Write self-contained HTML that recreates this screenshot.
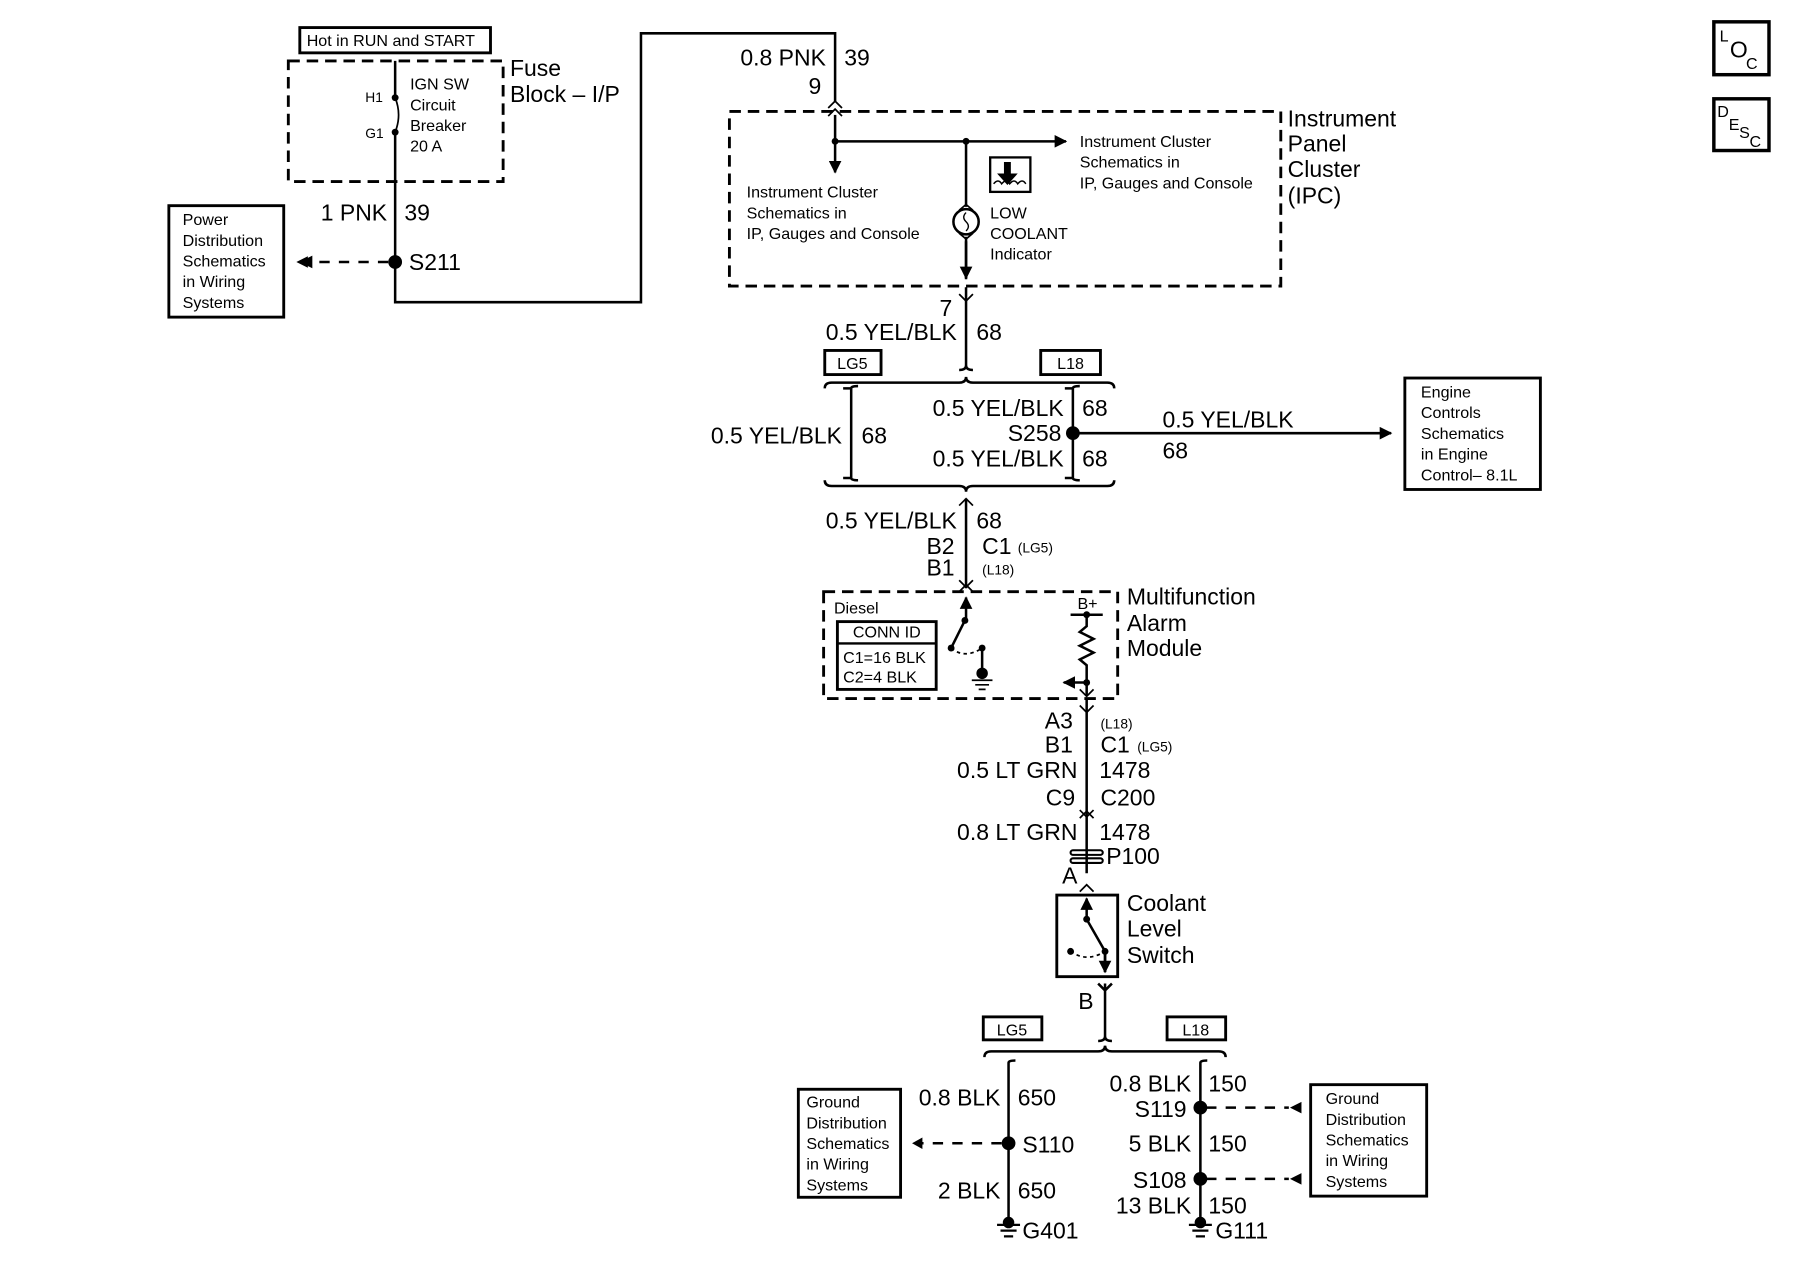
<!DOCTYPE html>
<html><head><meta charset="utf-8"><style>
html,body{margin:0;padding:0;background:#fff;}
svg{display:block}
text{font-family:"Liberation Sans",Arial,sans-serif;fill:#000}
.b{font-size:20px}
.s{font-size:14px}
.xs{font-size:12px}
.r{text-anchor:end}
</style></head><body>
<svg width="1800" height="1280" viewBox="0 0 1567 1114" preserveAspectRatio="none" xmlns="http://www.w3.org/2000/svg">
<defs>
<marker id="ah" viewBox="0 0 10 10" refX="9" refY="5" markerWidth="5" markerHeight="5" orient="auto-start-reverse"><path d="M0,0L10,5L0,10z" fill="#000"/></marker>
</defs>
<g fill="none" stroke="#000" stroke-width="2.2">
<rect x="261" y="24" width="166" height="22" stroke-width="2.5"/>
<rect x="251" y="53" width="187" height="105" stroke-dasharray="10,6" stroke-width="2.5"/>
<path d="M344,53V85M344,115V263H558V29H727V88"/>
<path d="M344,85q6,15 0,30" stroke-width="1.5"/>
<rect x="147" y="179" width="100" height="97" stroke-width="2.5"/>
<path d="M338,228H262" stroke-dasharray="9,8" marker-end="url(#ah)"/>
<path d="M721,94l6,-6l6,6M721,101l6,-6l6,6" stroke-width="1.5"/>
<rect x="635" y="97" width="480" height="152" stroke-dasharray="10,6" stroke-width="2.5"/>
<path d="M727,100V150" marker-end="url(#ah)"/>
<path d="M727,123H928" marker-end="url(#ah)"/>
<path d="M841,123V180M841,206V243" />
<path d="M841,210V242" marker-end="url(#ah)"/>
<path d="M835,183l6,-5l6,5M835,203l6,5l6,-5" stroke-width="1.5"/>
<circle cx="841" cy="193" r="11"/>
<path d="M841,185q-4,4 0,8q4,4 0,8" stroke-width="1.2"/>
<rect x="862" y="137" width="35" height="30" stroke-width="2"/>
<path d="M865,160q4,-5 7,0q4,-5 7,0q4,-5 7,0q4,-5 7,0" stroke-width="1.3"/>
<path d="M835,256l6,6l6,-6" stroke-width="1.5"/>
<path d="M841,250V318q0,4 6,4M841,318q0,4 -6,4"/>
<rect x="718" y="305" width="49" height="21" stroke-width="2.5"/>
<rect x="906" y="305" width="52" height="21" stroke-width="2.5"/>
<path d="M718,338q0,-5 6,-5H835q6,0 6,-5q0,5 6,5H964q6,0 6,5"/>
<path d="M741,338V416M734,338q7,0 7,0M741,338q0,-2 6,-2M741,416q0,2 6,2M734,416h7"/>
<path d="M934,338V416M927,338h7q0,-2 6,-2M934,416q0,2 6,2M927,416h7"/>
<path d="M718,418q0,5 6,5H835q6,0 6,5q0,-5 6,-5H964q6,0 6,-5"/>
<path d="M934,377H1211" marker-end="url(#ah)"/>
<rect x="1223" y="329" width="118" height="97" stroke-width="2.5"/>
<path d="M841,434V512"/>
<path d="M835,440q6,-6 6,-6q0,0 6,6" stroke-width="1.5"/>
<path d="M835,505l6,6l6,-6M835,515l6,-6l6,6" stroke-width="1.5"/>
<rect x="717" y="515" width="256" height="93" stroke-dasharray="10,6" stroke-width="2.5"/>
<rect x="729" y="541" width="86" height="59" stroke-width="2.5"/>
<path d="M729,560H815" stroke-width="2"/>
<path d="M841,540V520" marker-end="url(#ah)"/>
<path d="M840,540L828,564"/>
<path d="M828,564q12,10 27,0" stroke-dasharray="3,3" stroke-width="1.5"/>
<path d="M855,564V586"/>
<path d="M846,592h18M849,596h12M852,600h6" stroke-width="1.5"/>
<path d="M932,535H960"/>
<path d="M946,535V545l-6,5l12,6l-12,6l12,6l-12,6l6,5V605"/>
<path d="M946,594H926" marker-end="url(#ah)"/>
<path d="M940,600l6,6l6,-6M940,614l6,6l6,-6" stroke-width="1.5"/>
<path d="M946,608V760"/>
<path d="M940,705l6,6l6,-6M940,712l6,-6l6,6" stroke-width="1.5"/>
<rect x="932" y="740" width="28" height="4" rx="2" stroke-width="1.8"/>
<rect x="932" y="747" width="28" height="4" rx="2" stroke-width="1.8"/>
<path d="M940,776l6,-6l6,6" stroke-width="1.5"/>
<rect x="920" y="779" width="53" height="71" stroke-width="2.5"/>
<path d="M946,800V782" marker-end="url(#ah)"/>
<path d="M946,800l16,28V846"/>
<path d="M962,830V846" marker-end="url(#ah)"/>
<path d="M932,828q14,10 30,0" stroke-dasharray="3,3" stroke-width="1.5"/>
<path d="M956,856l6,6l6,-6M962,856V902q0,4 6,4M962,902q0,4 -6,4"/>
<rect x="856" y="885" width="51" height="20" stroke-width="2.5"/>
<rect x="1016" y="885" width="51" height="20" stroke-width="2.5"/>
<path d="M857,920q0,-5 6,-5H956q6,0 6,-5q0,5 6,5H1061q6,0 6,5"/>
<path d="M878,925V1064M878,925q0,-2 6,-2"/>
<path d="M1045,925V1064M1045,925q0,-2 6,-2"/>
<path d="M868,1066h20M871,1071h14M874,1076h8" stroke-width="2"/>
<path d="M1035,1066h20M1038,1071h14M1041,1076h8" stroke-width="2"/>
<path d="M872,995H797" stroke-dasharray="9,8"/>
<path d="M1050,964H1122M1050,1026H1122" stroke-dasharray="9,8"/>
<rect x="695" y="948" width="89" height="94" stroke-width="2.5"/>
<rect x="1141" y="944" width="101" height="97" stroke-width="2.5"/>
<rect x="1492" y="19" width="48" height="46" stroke-width="3"/>
<rect x="1492" y="86" width="48" height="45" stroke-width="3"/>
</g>
<g fill="#000">
<circle cx="344" cy="85" r="3"/><circle cx="344" cy="115" r="3"/>
<circle cx="344" cy="228" r="6"/>
<path d="M258,228l10,-5v10z"/>
<circle cx="727" cy="123" r="3"/><circle cx="841" cy="123" r="3"/>
<path d="M874,141h6v10h6l-9,10l-9,-10h6z"/>
<circle cx="934" cy="377" r="6"/>
<circle cx="840" cy="540" r="3"/><circle cx="828" cy="564" r="3"/><circle cx="855" cy="564" r="3"/>
<circle cx="855" cy="586" r="5"/>
<circle cx="946" cy="535" r="3"/><circle cx="946" cy="594" r="3"/>
<circle cx="946" cy="800" r="3"/><circle cx="962" cy="828" r="3"/><circle cx="932" cy="828" r="3"/>
<circle cx="878" cy="995" r="6"/><circle cx="1045" cy="964" r="6"/><circle cx="1045" cy="1026" r="6"/>
<circle cx="878" cy="1064" r="5"/><circle cx="1045" cy="1064" r="5"/>
<path d="M794,995l9,-5v10z"/>
<path d="M1123,964l10,-5v10zM1123,1026l10,-5v10z"/>
</g>
<text x="267" y="40" class="s">Hot in RUN and START</text>
<text x="318" y="89" class="xs">H1</text><text x="318" y="120" class="xs">G1</text>
<text x="357" y="78" class="s">IGN SW</text><text x="357" y="96" class="s">Circuit</text><text x="357" y="114" class="s">Breaker</text><text x="357" y="132" class="s">20 A</text>
<text x="444" y="66" class="b">Fuse</text><text x="444" y="89" class="b">Block – I/P</text>
<text x="337" y="192" class="b r">1 PNK</text><text x="352" y="192" class="b">39</text>
<text x="356" y="235" class="b">S211</text>
<text x="159" y="196" class="s">Power</text><text x="159" y="214" class="s">Distribution</text><text x="159" y="232" class="s">Schematics</text><text x="159" y="250" class="s">in Wiring</text><text x="159" y="268" class="s">Systems</text>
<text x="719" y="57" class="b r">0.8 PNK</text><text x="735" y="57" class="b">39</text>
<text x="715" y="82" class="b r">9</text>
<text x="650" y="172" class="s">Instrument Cluster</text><text x="650" y="190" class="s">Schematics in</text><text x="650" y="208" class="s">IP, Gauges and Console</text>
<text x="940" y="128" class="s">Instrument Cluster</text><text x="940" y="146" class="s">Schematics in</text><text x="940" y="164" class="s">IP, Gauges and Console</text>
<text x="862" y="190" class="s">LOW</text><text x="862" y="208" class="s">COOLANT</text><text x="862" y="226" class="s">Indicator</text>
<text x="1121" y="110" class="b">Instrument</text><text x="1121" y="132" class="b">Panel</text><text x="1121" y="154" class="b">Cluster</text><text x="1121" y="177" class="b">(IPC)</text>
<text x="829" y="275" class="b r">7</text>
<text x="833" y="296" class="b r">0.5 YEL/BLK</text><text x="850" y="296" class="b">68</text>
<text x="742" y="321" class="s" text-anchor="middle">LG5</text><text x="932" y="321" class="s" text-anchor="middle">L18</text>
<text x="733" y="386" class="b r">0.5 YEL/BLK</text><text x="750" y="386" class="b">68</text>
<text x="926" y="362" class="b r">0.5 YEL/BLK</text><text x="942" y="362" class="b">68</text>
<text x="924" y="384" class="b r">S258</text>
<text x="926" y="406" class="b r">0.5 YEL/BLK</text><text x="942" y="406" class="b">68</text>
<text x="1012" y="372" class="b">0.5 YEL/BLK</text><text x="1012" y="399" class="b">68</text>
<text x="1237" y="346" class="s">Engine</text><text x="1237" y="364" class="s">Controls</text><text x="1237" y="382" class="s">Schematics</text><text x="1237" y="400" class="s">in Engine</text><text x="1237" y="418" class="s">Control– 8.1L</text>
<text x="833" y="460" class="b r">0.5 YEL/BLK</text><text x="850" y="460" class="b">68</text>
<text x="831" y="482" class="b r">B2</text><text x="855" y="482" class="b">C1</text><text x="886" y="481" class="xs">(LG5)</text>
<text x="831" y="501" class="b r">B1</text><text x="855" y="500" class="xs">(L18)</text>
<text x="726" y="534" class="s">Diesel</text>
<text x="772" y="555" class="s" text-anchor="middle">CONN ID</text>
<text x="734" y="577" class="s">C1=16 BLK</text><text x="734" y="594" class="s">C2=4 BLK</text>
<text x="938" y="530" class="s">B+</text>
<text x="981" y="526" class="b">Multifunction</text><text x="981" y="549" class="b">Alarm</text><text x="981" y="571" class="b">Module</text>
<text x="934" y="634" class="b r">A3</text><text x="958" y="634" class="xs">(L18)</text>
<text x="934" y="655" class="b r">B1</text><text x="958" y="655" class="b">C1</text><text x="990" y="654" class="xs">(LG5)</text>
<text x="938" y="677" class="b r">0.5 LT GRN</text><text x="957" y="677" class="b">1478</text>
<text x="936" y="701" class="b r">C9</text><text x="958" y="701" class="b">C200</text>
<text x="938" y="731" class="b r">0.8 LT GRN</text><text x="957" y="731" class="b">1478</text>
<text x="963" y="752" class="b">P100</text>
<text x="938" y="769" class="b r">A</text>
<text x="981" y="793" class="b">Coolant</text><text x="981" y="815" class="b">Level</text><text x="981" y="838" class="b">Switch</text>
<text x="952" y="878" class="b r">B</text>
<text x="881" y="901" class="s" text-anchor="middle">LG5</text><text x="1041" y="901" class="s" text-anchor="middle">L18</text>
<text x="871" y="962" class="b r">0.8 BLK</text><text x="886" y="962" class="b">650</text>
<text x="890" y="1003" class="b">S110</text>
<text x="871" y="1043" class="b r">2 BLK</text><text x="886" y="1043" class="b">650</text>
<text x="890" y="1078" class="b">G401</text>
<text x="702" y="964" class="s">Ground</text><text x="702" y="982" class="s">Distribution</text><text x="702" y="1000" class="s">Schematics</text><text x="702" y="1018" class="s">in Wiring</text><text x="702" y="1036" class="s">Systems</text>
<text x="1037" y="950" class="b r">0.8 BLK</text><text x="1052" y="950" class="b">150</text>
<text x="1033" y="972" class="b r">S119</text>
<text x="1037" y="1002" class="b r">5 BLK</text><text x="1052" y="1002" class="b">150</text>
<text x="1033" y="1034" class="b r">S108</text>
<text x="1037" y="1056" class="b r">13 BLK</text><text x="1052" y="1056" class="b">150</text>
<text x="1058" y="1078" class="b">G111</text>
<text x="1154" y="961" class="s">Ground</text><text x="1154" y="979" class="s">Distribution</text><text x="1154" y="997" class="s">Schematics</text><text x="1154" y="1015" class="s">in Wiring</text><text x="1154" y="1033" class="s">Systems</text>
<text x="1497" y="36" class="s">L</text><text x="1506" y="50" class="b">O</text><text x="1520" y="60" class="s">C</text>
<text x="1495" y="102" class="s">D</text><text x="1505" y="113" class="s">E</text><text x="1514" y="120" class="s">S</text><text x="1523" y="128" class="s">C</text>
</svg>
</body></html>
